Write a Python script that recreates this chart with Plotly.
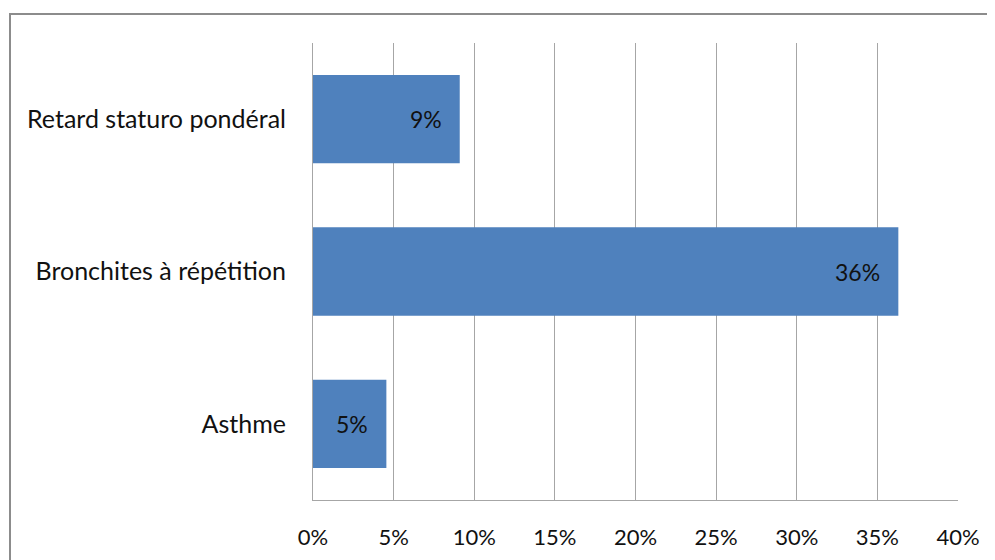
import plotly.graph_objects as go

categories = ["Asthme", "Bronchites à répétition", "Retard staturo pondéral"]
values = [4.55, 36.3, 9.1]
labels = ["5%", "36%", "9%"]
tick_vals = [0, 5, 10, 15, 20, 25, 30, 35, 40]
tick_text = ["0%", "5%", "10%", "15%", "20%", "25%", "30%", "35%", "40%"]

FONT = "Lato, Open Sans, sans-serif"
TXT = "#111111"

fig = go.Figure()
fig.add_trace(go.Bar(
    y=categories, x=values, orientation="h",
    marker=dict(color="#4F81BD", line=dict(color="#4F81BD", width=0)),
    hoverinfo="skip",
))

for c, v, t in zip(categories, values, labels):
    fig.add_annotation(x=v, y=c, text=t, showarrow=False, xanchor="right",
                       xshift=-16, font=dict(family=FONT, size=23, color=TXT))

# page has an 8px body margin; size the figure so the plot lands where the reference has it
OFF = 8
W, H = 995 - OFF, 560 - OFF
L, R, T, B = 313 - OFF, 995 - 958, 43 - OFF, 60
pw, ph = W - L - R, H - T - B


def px_x(p):
    return (p - OFF - L) / pw


def px_y(p):
    return 1 - (p - OFF - T) / ph


fig.add_shape(type="rect", xref="paper", yref="paper",
              x0=px_x(10), x1=px_x(1010),
              y0=px_y(580), y1=px_y(14),
              line=dict(color="#8c8c8c", width=2), fillcolor="rgba(0,0,0,0)", layer="below")

fig.update_layout(
    width=W, height=H,
    margin=dict(l=L, r=R, t=T, b=B, autoexpand=False),
    paper_bgcolor="white", plot_bgcolor="white",
    bargap=0.42, showlegend=False,
    font=dict(family=FONT, size=22, color=TXT),
    xaxis=dict(range=[0, 40], tickvals=tick_vals, ticktext=tick_text, automargin=False,
               showgrid=True, gridcolor="#a6a6a6", gridwidth=1,
               showline=True, linecolor="#a6a6a6", linewidth=1,
               zeroline=False, ticks="outside", ticklen=18, tickcolor="rgba(0,0,0,0)",
               tickfont=dict(family=FONT, size=22, color=TXT)),
    yaxis=dict(showgrid=False, showline=True, linecolor="#a6a6a6", linewidth=1, automargin=False,
               ticks="outside", ticklen=21, tickcolor="rgba(0,0,0,0)",
               tickfont=dict(family=FONT, size=25, color=TXT)),
)

fig.write_html("out.html")
